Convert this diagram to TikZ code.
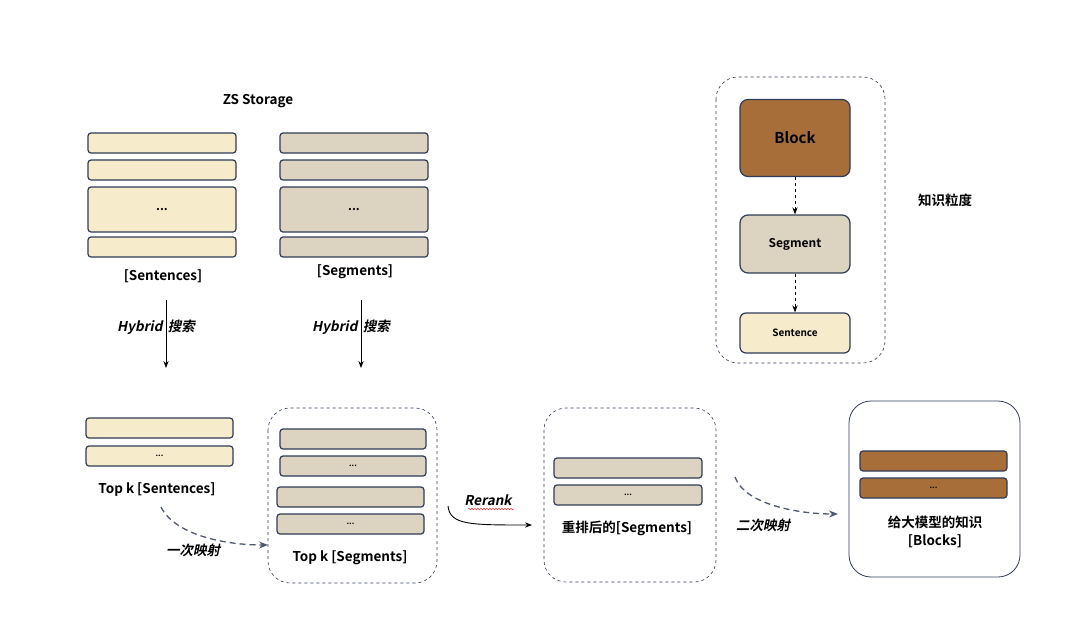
\documentclass[tikz,border=0pt]{standalone}
\usepackage{fontspec}
\setmainfont{Noto Sans CJK SC}[BoldFont={* Bold}]
\newfontfamily\slantfont{Noto Sans CJK SC Bold}[FakeSlant=0.2]
\usetikzlibrary{arrows.meta,decorations.pathmorphing}
\definecolor{cream}{HTML}{F6EBCB}
\definecolor{seg}{HTML}{DCD3C0}
\definecolor{wood}{HTML}{A86E3A}
\definecolor{edge}{HTML}{2F3B57}
\begin{document}
\begin{tikzpicture}[x=1pt,y=-1pt,
 bar/.style={draw=edge,line width=1.2pt,rounded corners=3pt,inner sep=0pt,font=\bfseries\fontsize{9}{10}\selectfont},
 sen/.style={bar,fill=cream},
 sg/.style={bar,fill=seg},
 wd/.style={bar,fill=wood},
 lbl/.style={font=\bfseries\fontsize{13.5}{15}\selectfont},
 ilbl/.style={font=\slantfont\fontsize{13.5}{15}\selectfont},
 frame/.style={draw=edge,dashed,line width=0.6pt,rounded corners=22pt},
 arr/.style={-{Stealth[length=7pt]},line width=0.9pt},
 darr/.style={-{Stealth[length=9pt,width=7pt]},dash pattern=on 6pt off 4pt,line width=1.3pt,draw=edge!85}]
\useasboundingbox (0,0) rectangle (1080,622);
\newcommand{\bx}[6]{\node[#1,minimum width=#4-#2,minimum height=#5-#3] (#6) at ({(#2+#4)/2},{(#3+#5)/2}) {};}
\node[lbl] (zs) at (258,101) {ZS Storage};
% sentences column
\bx{sen}{88}{133}{236}{153}{s1}
\bx{sen}{88}{160}{236}{180}{s2}
\bx{sen}{88}{187}{236}{232}{s3}
\bx{sen}{88}{237}{236}{257}{s4}
\node[font=\bfseries\fontsize{12}{12}\selectfont] at (s3) {...};
\node[lbl] (ls) at (163,276) {[Sentences]};
\bx{sg}{280}{133}{428}{153}{g1}
\bx{sg}{280}{160}{428}{180}{g2}
\bx{sg}{280}{187}{428}{232}{g3}
\bx{sg}{280}{237}{428}{257}{g4}
\node[font=\bfseries\fontsize{12}{12}\selectfont] at (g3) {...};
\node[lbl] (lg) at (355,272) {[Segments]};
\coordinate (a1) at (166,300); \coordinate (a1e) at (166,368);
\coordinate (a2) at (361,300); \coordinate (a2e) at (361,368);
\draw[arr] (a1) -- (a1e);
\draw[arr] (a2) -- (a2e);
\node[ilbl] (h1) at (156,327) {Hybrid\, 搜索};
\node[ilbl] (h2) at (351,327) {Hybrid\, 搜索};
% top k sentences
\bx{sen}{86}{418}{233}{438}{t1}
\bx{sen}{86}{446}{233}{466}{t2}
\node[font=\bfseries\fontsize{8}{8}\selectfont] at (t2) {...};
\node[lbl] (lts) at (157,490) {Top k [Sentences]};
% frame 1
\draw[frame] (268,408) rectangle (437,583);
\bx{sg}{280}{429}{426}{449}{u1}
\bx{sg}{280}{456}{426}{476}{u2}
\bx{sg}{277}{487}{424}{507}{u3}
\bx{sg}{277}{514}{424}{534}{u4}
\node[font=\bfseries\fontsize{8}{8}\selectfont] at (u2) {...};
\node[font=\bfseries\fontsize{8}{8}\selectfont] at (u4) {...};
\node[lbl] (ltg) at (350,558) {Top k [Segments]};
\coordinate (f1in) at (268,545);
\draw[darr] (161,507) .. controls (175,535) and (225,545) .. (f1in);
\node[ilbl] (m1) at (193,550) {一次映射};
% rerank
\coordinate (r0) at (448,506); \coordinate (r1) at (532,525);
\draw[arr] (r0) .. controls (450,525) and (470,525) .. (r1);
\node[ilbl] (rr) at (488,500) {Rerank};
\draw[red!80,line width=0.5pt,decorate,decoration={snake,amplitude=0.8pt,segment length=3pt}] (468,509) -- (514,509);
% frame 2
\draw[frame] (544,408) rectangle (716,582);
\bx{sg}{554}{458}{702}{478}{v1}
\bx{sg}{554}{485}{702}{505}{v2}
\node[font=\bfseries\fontsize{8}{8}\selectfont] at (v2) {...};
\node[lbl] (lrs) at (627,528) {重排后的[Segments]};
\draw[darr] (735,477) .. controls (745,505) and (800,514) .. (838,514);
\node[ilbl] (m2) at (763,525) {二次映射};
% frame 3
\draw[draw=edge,line width=0.8pt,rounded corners=22pt] (849,401) rectangle (1020,577);
\bx{wd}{860}{451}{1007}{471}{w1}
\bx{wd}{860}{478}{1007}{498}{w2}
\node[font=\bfseries\fontsize{8}{8}\selectfont] at (w2) {...};
\node[lbl] (lb1) at (935,522) {给大模型的知识};
\node[lbl] (lb2) at (935,541) {[Blocks]};
% granularity panel
\draw[frame] (716,77) rectangle (885,363);
\node[wd,rounded corners=8pt,minimum width=110pt,minimum height=77pt,font=\bfseries\fontsize{15}{17}\selectfont] (blk) at (795,138) {Block};
\node[sg,rounded corners=8pt,minimum width=110pt,minimum height=58pt,font=\bfseries\fontsize{12}{14}\selectfont] (sgm) at (795,244) {Segment};
\node[sen,rounded corners=6pt,minimum width=110pt,minimum height=40pt,font=\bfseries\fontsize{10}{12}\selectfont] (snt) at (795,333) {Sentence};
\draw[-{Stealth[length=7pt]},dashed,line width=0.9pt] (blk) -- (sgm);
\draw[-{Stealth[length=7pt]},dashed,line width=0.9pt] (sgm) -- (snt);
\node[lbl] (kg) at (945,200) {知识粒度};
\end{tikzpicture}
\end{document}
